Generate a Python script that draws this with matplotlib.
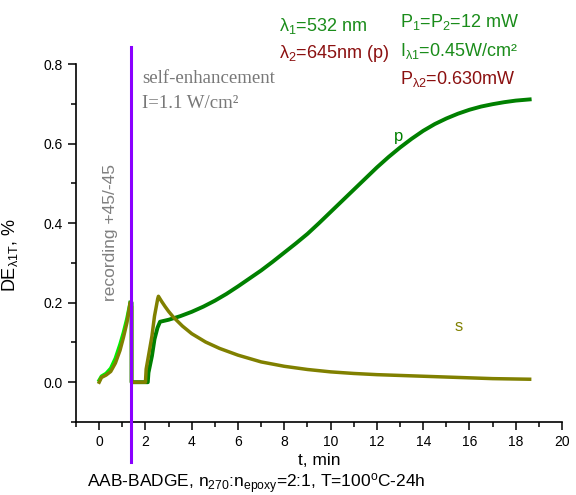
import matplotlib
matplotlib.use("Agg")
import matplotlib.pyplot as plt
from matplotlib.ticker import MultipleLocator

plt.rcParams["font.family"] = ["Liberation Sans", "DejaVu Sans"]
plt.rcParams["mathtext.fontset"] = "custom"
plt.rcParams["mathtext.rm"] = "Liberation Sans"
plt.rcParams["mathtext.it"] = "Liberation Sans:italic"

# recording stage (0 - 1.35 min)
rec_t = [0.0, 0.1, 0.3, 0.5, 0.7, 0.9, 1.05, 1.2, 1.34]
rec_p = [0.005, 0.015, 0.022, 0.035, 0.06, 0.095, 0.125, 0.16, 0.2]

# p-component after switching off the recording beam
p_t = [1.36, 1.40, 1.40, 1.8, 2.1, 2.13, 2.28, 2.39, 2.52, 2.63, 3.0, 3.5, 4.0,
       4.5, 5.0, 5.5, 6.0, 6.5, 7.0, 7.5, 8.0, 8.5, 9.0, 9.5, 10.0, 10.5, 11.0,
       11.5, 12.0, 12.5, 13.0, 13.5, 14.0, 14.5, 15.0, 15.5, 16.0, 16.5, 17.0,
       17.5, 18.0, 18.6]
p_v = [0.2, 0.2, 0.0, 0.0, 0.0, 0.024, 0.066, 0.108, 0.137, 0.152, 0.157, 0.166,
       0.177, 0.190, 0.205, 0.222, 0.241, 0.261, 0.281, 0.303, 0.326, 0.349,
       0.373, 0.400, 0.428, 0.456, 0.484, 0.512, 0.540, 0.566, 0.590, 0.612,
       0.632, 0.649, 0.663, 0.675, 0.685, 0.693, 0.699, 0.704, 0.708, 0.711]

# s-component
s_t = [0.0, 0.1, 0.3, 0.5, 0.7, 0.9, 1.05, 1.2, 1.34, 1.40, 1.40, 1.7, 2.0, 2.03,
       2.13, 2.28, 2.39, 2.53, 2.56, 2.7, 2.85, 3.0, 3.2, 3.6, 4.0, 4.6, 5.2, 6.0,
       7.0, 8.0, 9.0, 10.0, 11.0, 12.0, 13.0, 14.0, 15.0, 16.0, 17.0, 18.6]
s_v = [0.0, 0.012, 0.018, 0.027, 0.048, 0.08, 0.113, 0.15, 0.2, 0.19, 0.0, 0.0,
       0.0, 0.033, 0.066, 0.116, 0.166, 0.21, 0.216, 0.203, 0.190, 0.178, 0.164,
       0.141, 0.122, 0.101, 0.085, 0.068, 0.051, 0.040, 0.032, 0.026, 0.022,
       0.019, 0.017, 0.015, 0.013, 0.011, 0.009, 0.0075]

t_switch = 1.36

fig = plt.figure(figsize=(5.76, 4.95), dpi=100)
ax = fig.add_axes([0.132, 0.1475, 0.8438, 0.7232])

ax.plot(rec_t, rec_p, color="#00ee00", lw=2.6, zorder=2, solid_joinstyle="round")
ax.plot(p_t, p_v, color="#008000", lw=2.8, zorder=3, solid_joinstyle="round")
ax.plot(s_t, s_v, color="#808000", lw=2.5, zorder=4, solid_joinstyle="round")

ax.plot([t_switch, t_switch], [-0.2, 0.842], color="#8a00ff", lw=2.2,
        clip_on=False, zorder=5)

ax.set_xlim(-1, 20)
ax.set_ylim(-0.1, 0.8)
ax.xaxis.set_major_locator(MultipleLocator(2))
ax.xaxis.set_minor_locator(MultipleLocator(1))
ax.yaxis.set_major_locator(MultipleLocator(0.2))
ax.yaxis.set_minor_locator(MultipleLocator(0.1))
ax.yaxis.set_major_formatter(plt.FuncFormatter(lambda v, _: "%.1f" % v))
ax.tick_params(which="major", direction="out", length=6, width=1.1, labelsize=10)
ax.tick_params(which="minor", direction="out", length=3.5, width=1.1)
ax.spines["top"].set_visible(False)
ax.spines["right"].set_visible(False)
for sp in ["left", "bottom"]:
    ax.spines[sp].set_linewidth(1.2)

ax.set_xlabel("t, min", fontsize=12.5, labelpad=3)
ax.set_ylabel(r"$\mathregular{DE_{λ1T}}$, %", fontsize=13)
ax.yaxis.set_label_coords(-0.115, 0.466)

ax.text(0.48, 0.205, "recording +45/-45", rotation=90, ha="center",
        va="bottom", color="#808080", fontsize=12.5)
ax.text(1.86, 0.764, "self-enhancement", family="Liberation Serif",
        color="#787878", fontsize=13.5, va="center")
ax.text(1.86, 0.70, "I=1.1 W/cm²", family="Liberation Serif",
        color="#787878", fontsize=13.5, va="center")
ax.text(12.93, 0.617, "p", color="#008000", fontsize=12, ha="center", va="center")
ax.text(15.52, 0.141, "s", color="#808000", fontsize=12, ha="center", va="center")

green_txt = "#1a8c1a"
red_txt = "#8b1010"
fig.text(279 / 576, 1 - 31 / 495, r"$\mathregular{λ_1}$=532 nm",
         color=green_txt, fontsize=13, va="baseline")
fig.text(279 / 576, 1 - 58 / 495, r"$\mathregular{λ_2}$=645nm (p)",
         color=red_txt, fontsize=13, va="baseline")
fig.text(400 / 576, 1 - 27 / 495, r"$\mathregular{P_1}$=$\mathregular{P_2}$=12 mW",
         color=green_txt, fontsize=13, va="baseline")
fig.text(400 / 576, 1 - 56 / 495, r"$\mathregular{I_{λ1}}$=0.45W/cm²",
         color=green_txt, fontsize=13, va="baseline")
fig.text(400 / 576, 1 - 84 / 495, r"$\mathregular{P_{λ2}}$=0.630mW",
         color=red_txt, fontsize=13, va="baseline")

fig.text(87 / 576, 1 - 488 / 495,
         r"AAB-BADGE, $\mathregular{n_{270}}$:$\mathregular{n_{epoxy}}$=2:1, T=100$\mathregular{^o}$C-24h",
         fontsize=12.5, va="baseline")

fig.savefig("out.png", dpi=100)
